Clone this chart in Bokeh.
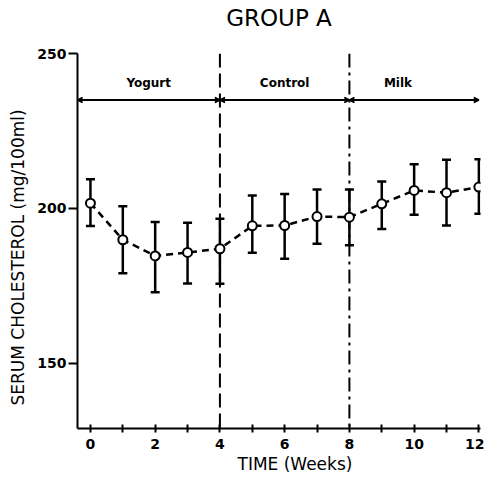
from bokeh.plotting import figure
from bokeh.models import (Range1d, FixedTicker, Whisker, TeeHead, ColumnDataSource,
                          Title, Arrow, VeeHead)
from bokeh.embed import file_html
from bokeh.resources import INLINE

weeks = [0, 1, 2, 3, 4, 5, 6, 7, 8, 9, 10, 11, 12]
mean = [201.7, 189.9, 184.7, 185.8, 187.0, 194.4, 194.5, 197.4, 197.2, 201.5, 205.8, 205.1, 206.9]
upper = [209.4, 200.7, 195.6, 195.4, 196.7, 204.2, 204.7, 206.1, 206.1, 208.7, 214.3, 215.7, 215.9]
lower = [194.3, 179.1, 173.0, 175.8, 175.7, 185.7, 183.8, 188.6, 188.1, 193.4, 198.0, 194.5, 198.3]

phase_names = ["Yogurt", "Control", "Milk"]
phase_label_x = [1.8, 6.0, 9.5]
phase_bounds = [4, 8]
phase_line_y = 235
phase_label_y = 240.5

x_ticks = list(range(0, 13))
x_tick_labels = {t: (str(t) if t % 2 == 0 else "") for t in x_ticks}
y_ticks = [150, 200, 250]

chart_title = "GROUP A"
x_title = "TIME   (Weeks)"
y_title = "SERUM CHOLESTEROL  (mg/100ml)"

FONT = "DejaVu Sans"

p = figure(width=484, height=480, output_backend="svg", toolbar_location=None,
           x_range=Range1d(-0.4, 12.05), y_range=Range1d(129, 250),
           min_border_left=77, min_border_right=4, min_border_top=53, min_border_bottom=52)
p.outline_line_color = None
p.xgrid.visible = False
p.ygrid.visible = False

p.title = Title(text=chart_title, align="center", text_font=FONT, text_font_size="23px",
                text_font_style="normal", text_color="black", offset=0, standoff=0)
# spacer between title and plot frame
p.add_layout(Title(text=" ", text_font_size="10px", standoff=10), "above")

for ax in (p.xaxis[0], p.yaxis[0]):
    ax.axis_line_width = 2
    ax.axis_line_color = "black"
    ax.major_tick_line_width = 2
    ax.major_tick_line_color = "black"
    ax.minor_tick_line_color = None
    ax.major_label_text_font = FONT
    ax.major_label_text_font_size = "14px"
    ax.major_label_text_font_style = "bold"
    ax.major_label_text_color = "black"

p.xaxis.ticker = FixedTicker(ticks=x_ticks)
p.xaxis.major_label_overrides = x_tick_labels
p.xaxis.major_tick_in = 4
p.xaxis.major_tick_out = 4
p.xaxis.major_label_standoff = 6

p.yaxis.ticker = FixedTicker(ticks=y_ticks)
p.yaxis.major_tick_in = 0
p.yaxis.major_tick_out = 9
p.yaxis.major_label_standoff = 2

# axis titles as side titles so they can be positioned like the original
p.add_layout(Title(text=x_title, align="left", offset=160, vertical_align="top", standoff=4,
                   text_font=FONT, text_font_size="17px", text_font_style="normal",
                   text_color="black"), "below")
p.add_layout(Title(text=y_title, align="left", offset=23, vertical_align="top", standoff=10,
                   text_font=FONT, text_font_size="17px", text_font_style="normal",
                   text_color="black"), "left")

# phase separators
p.segment(x0=[phase_bounds[0]], y0=[250], x1=[phase_bounds[0]], y1=[129],
          line_color="black", line_width=2, line_dash="14 6")
p.segment(x0=[phase_bounds[1]], y0=[250], x1=[phase_bounds[1]], y1=[129],
          line_color="black", line_width=2, line_dash="14 5 3 5")

# phase arrows
starts = [-0.4] + phase_bounds
ends = phase_bounds + [12.0]
for s, e in zip(starts, ends):
    p.add_layout(Arrow(start=VeeHead(size=5, line_width=1.5), end=VeeHead(size=5, line_width=1.5),
                       x_start=s, y_start=phase_line_y, x_end=e, y_end=phase_line_y,
                       line_width=2, line_color="black"))

p.text(x=phase_label_x, y=[phase_label_y] * 3, text=phase_names,
       text_align="center", text_baseline="middle",
       text_font={"value": FONT}, text_font_size="12px", text_font_style="bold")

src = ColumnDataSource(dict(x=weeks, y=mean, upper=upper, lower=lower))
p.add_layout(Whisker(source=src, base="x", upper="upper", lower="lower",
                     line_width=2.5, line_color="black",
                     upper_head=TeeHead(size=9, line_width=2.5),
                     lower_head=TeeHead(size=9, line_width=2.5)))
p.line(x="x", y="y", source=src, line_color="black", line_width=2.5, line_dash="7 5")
p.scatter(x="x", y="y", source=src, size=9, fill_color="white", line_color="black", line_width=2)

open("out.html", "w").write(file_html(p, INLINE))
